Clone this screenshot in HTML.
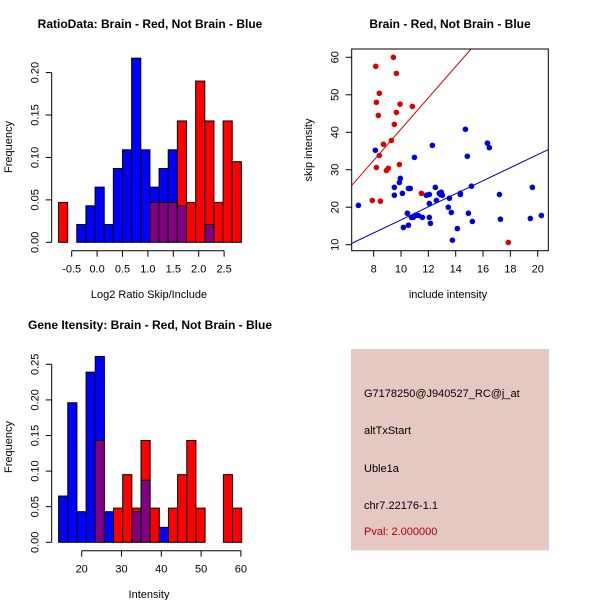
<!DOCTYPE html>
<html><head><meta charset="utf-8"><style>
body{margin:0;background:#fff}
svg{display:block;font-family:"Liberation Sans",sans-serif}
</style></head><body>
<svg id="s" width="600" height="600" xmlns="http://www.w3.org/2000/svg">
<rect width="600" height="600" fill="#fff"/>
<g id="p1"></g>
<g id="p2"></g>
<g id="p3"></g>
<g>
<rect x="351" y="349" width="198" height="201.5" fill="#e6c8c2"/>
<g font-size="11" fill="#000">
<text x="364" y="397">G7178250@J940527_RC@j_at</text>
<text x="364" y="434">altTxStart</text>
<text x="364" y="472">Uble1a</text>
<text x="364" y="509">chr7.22176-1.1</text>
<text x="364" y="535" fill="#aa0000">Pval: 2.000000</text>
</g></g>
</svg>
<script>
// ---- Chart 1 data: ratio histogram ----
const ratioBinStart = -0.76;
const ratioBinWidth = 0.18;
const ratioBlue = [0,0,0.021,0.043,0.065,0.021,0.087,0.109,0.217,0.109,0.065,0.087,0.109,0.043,0,0,0.021,0,0,0];
const ratioRed  = [0.047,0,0,0,0,0,0,0,0,0,0.047,0.047,0.047,0.143,0.047,0.19,0.143,0.047,0.143,0.095];
const ratioXTicks = [-0.5,0,0.5,1,1.5,2,2.5];
const ratioXLabels = ["-0.5","0.0","0.5","1.0","1.5","2.0","2.5"];
const ratioYTicks = [0,0.05,0.1,0.15,0.2];
const ratioYLabels = ["0.00","0.05","0.10","0.15","0.20"];
// ---- Chart 3 data: intensity histogram ----
const intBinStart = 14.2;
const intBinWidth = 2.3;
const intBlue = [0.065,0.196,0.043,0.239,0.261,0.043,0,0,0.043,0.087,0,0.021,0,0,0,0,0,0,0,0];
const intRed  = [0,0,0,0,0.143,0,0.048,0.095,0.048,0.143,0.048,0,0.048,0.095,0.143,0.048,0,0,0.095,0.048];
const intXTicks = [20,30,40,50,60];
const intXLabels = ["20","30","40","50","60"];
const intYTicks = [0,0.05,0.1,0.15,0.2,0.25];
const intYLabels = ["0.00","0.05","0.10","0.15","0.20","0.25"];
// ---- Chart 2 data: scatter ----
const redX = [8.15,9.44,9.66,8.41,8.2,9.93,10.83,9.66,8.34,9.51,9.29,8.71,8.41,8.2,9.07,8.93,9.88,7.9,8.49,11.49,17.85];
const redY = [57.6,60,55.7,50.4,48,47.5,46.9,45.3,44.5,42.1,37.8,36.8,33.8,30.6,30.4,29.8,31.4,21.8,21.6,23.7,10.6];
const blueX = [6.88,8.12,9.51,9.51,9.88,9.95,10.1,10.17,10.46,10.54,10.54,10.68,10.76,10.9,11.05,10.98,11.27,11.56,11.85,12.07,12.07,12.07,12.15,12.29,12.51,12.59,12.8,12.95,13.02,12.88,13.46,13.54,13.68,13.76,14.12,14.34,14.34,14.71,14.85,14.93,15.15,15.22,16.32,16.46,17.2,17.27,19.46,19.61,20.27];
const blueY = [20.5,35.2,25.3,23.2,26.6,27.7,23.7,14.6,18.4,15.2,25.0,25.0,17.3,17.3,17.8,33.3,17.8,17.3,23.2,23.4,21.0,17.3,15.7,36.5,25.3,21.8,23.7,24.0,23.2,23.4,20.0,22.4,18.6,11.2,14.3,23.7,23.4,40.8,33.6,18.4,25.6,16.2,37.1,35.9,23.4,16.8,17.0,25.3,17.8];
const fitIntercepts = [25.8-4.17*6.39, 10.35-1.74*6.39];
const fitSlopes = [4.17, 1.74];
const scXTicks = [8,10,12,14,16,18,20];
const scYTicks = [10,20,30,40,50,60];

const NS="http://www.w3.org/2000/svg";
function mk(parent,tag,attrs){const e=document.createElementNS(NS,tag);for(const k in attrs)e.setAttribute(k,attrs[k]);parent.appendChild(e);return e;}
function txt(parent,x,y,s,attrs){const t=mk(parent,'text',Object.assign({x:x,y:y,'font-size':11,'text-anchor':'middle'},attrs||{}));t.textContent=s;return t;}

function hist(g,o){
  const sx=v=>o.x0px+(v-o.xv0)*o.kx, sy=v=>o.y0px-v*o.ky;
  for(let i=0;i<o.blue.length;i++){
    const a=o.binStart+i*o.bw, b=a+o.bw, xl=sx(a), w=sx(b)-xl;
    const bl=o.blue[i], rd=o.red[i], lo=Math.min(bl,rd), hi=Math.max(bl,rd);
    if(hi>lo){const r=mk(g,'rect',{x:xl,y:sy(hi),width:w,height:sy(lo)-sy(hi),fill:bl>rd?'#0000ff':'#ff0000',stroke:'#000','stroke-width':1});
      
      }
    if(lo>0){const r=mk(g,'rect',{x:xl,y:sy(lo),width:w,height:sy(0)-sy(lo),fill:'#800080',stroke:'#000','stroke-width':1});
      
      }
  }
  const ya=mk(g,'g',{});
  
  
  mk(ya,'line',{x1:o.yAxisX,x2:o.yAxisX,y1:sy(o.yT[0]),y2:sy(o.yT[o.yT.length-1]),stroke:'#000'});
  o.yT.forEach((v,i)=>{mk(ya,'line',{x1:o.yAxisX-6,x2:o.yAxisX,y1:sy(v),y2:sy(v),stroke:'#000'});
    const t=txt(ya,0,0,o.yL[i],{transform:`translate(${o.yAxisX-13},${sy(v)}) rotate(-90)`});
    
    });
  const xa=mk(g,'g',{});
  
  
  mk(xa,'line',{x1:sx(o.xT[0]),x2:sx(o.xT[o.xT.length-1]),y1:o.xAxisY,y2:o.xAxisY,stroke:'#000'});
  o.xT.forEach((v,i)=>{mk(xa,'line',{x1:sx(v),x2:sx(v),y1:o.xAxisY,y2:o.xAxisY+6,stroke:'#000'});
    const t=txt(xa,sx(v),o.xAxisY+22,o.xL[i]);
    
    });
}

const g1=document.getElementById('p1');
hist(g1,{blue:ratioBlue,red:ratioRed,binStart:ratioBinStart,bw:ratioBinWidth,x0px:71.7,xv0:-0.5,kx:50.8,y0px:242.3,ky:848.5,xT:ratioXTicks,xL:ratioXLabels,yT:ratioYTicks,yL:ratioYLabels,yAxisX:51.7,xAxisY:250.7});
let t;
t=txt(g1,150,28,'RatioData: Brain - Red, Not Brain - Blue',{'font-weight':'bold','font-size':12});

t=txt(g1,149,298,'Log2 Ratio Skip/Include');

t=txt(g1,0,0,'Frequency',{transform:'translate(12,147) rotate(-90)'});


const g3=document.getElementById('p3');
hist(g3,{blue:intBlue,red:intRed,binStart:intBinStart,bw:intBinWidth,x0px:81.7,xv0:20,kx:3.98,y0px:542.3,ky:712,xT:intXTicks,xL:intXLabels,yT:intYTicks,yL:intYLabels,yAxisX:51.7,xAxisY:550.7});
t=txt(g3,150,329,'Gene Itensity: Brain - Red, Not Brain - Blue',{'font-weight':'bold','font-size':12});

t=txt(g3,149,598,'Intensity');

t=txt(g3,0,0,'Frequency',{transform:'translate(12,447) rotate(-90)'});


// scatter
const g2=document.getElementById('p2');
const bx0=351.7,bx1=548.3,by0=49,by1=250.7;
const xs=v=>373.7+(v-8)*13.667, ys=v=>244.7-(v-10)*3.748;
const cp=mk(g2,'clipPath',{id:'clp'});
mk(cp,'rect',{x:bx0,y:by0,width:bx1-bx0,height:by1-by0});
const pg=mk(g2,'g',{'clip-path':'url(#clp)'});
const xmin=8+(bx0-373.7)/13.667, xmax=8+(bx1-373.7)/13.667;
['#cc0000','#0000aa'].forEach((c,i)=>{
  const l=mk(pg,'line',{x1:xs(xmin),y1:ys(fitIntercepts[i]+fitSlopes[i]*xmin),x2:xs(xmax),y2:ys(fitIntercepts[i]+fitSlopes[i]*xmax),stroke:c,'stroke-width':1});
  
  
});
blueX.forEach((v,i)=>{const c=mk(pg,'circle',{cx:xs(v),cy:ys(blueY[i]),r:2.8,fill:'#0000dd'});
  
  });
redX.forEach((v,i)=>{const c=mk(pg,'circle',{cx:xs(v),cy:ys(redY[i]),r:2.8,fill:'#dd0000'});
  
  });
mk(g2,'rect',{x:bx0,y:by0,width:bx1-bx0,height:by1-by0,fill:'none',stroke:'#000'});
scXTicks.forEach(v=>{mk(g2,'line',{x1:xs(v),x2:xs(v),y1:by1,y2:by1+6,stroke:'#000'});
  const t=txt(g2,xs(v),by1+22,String(v));
  
  });
scYTicks.forEach(v=>{mk(g2,'line',{x1:bx0-6,x2:bx0,y1:ys(v),y2:ys(v),stroke:'#000'});
  const t=txt(g2,0,0,String(v),{transform:`translate(${bx0-13},${ys(v)}) rotate(-90)`});
  
  });
t=txt(g2,450,28,'Brain - Red, Not Brain - Blue',{'font-weight':'bold','font-size':12});

t=txt(g2,448,298,'include intensity');

t=txt(g2,0,0,'skip intensity',{transform:'translate(312,150) rotate(-90)'});

</script>
</body></html>
